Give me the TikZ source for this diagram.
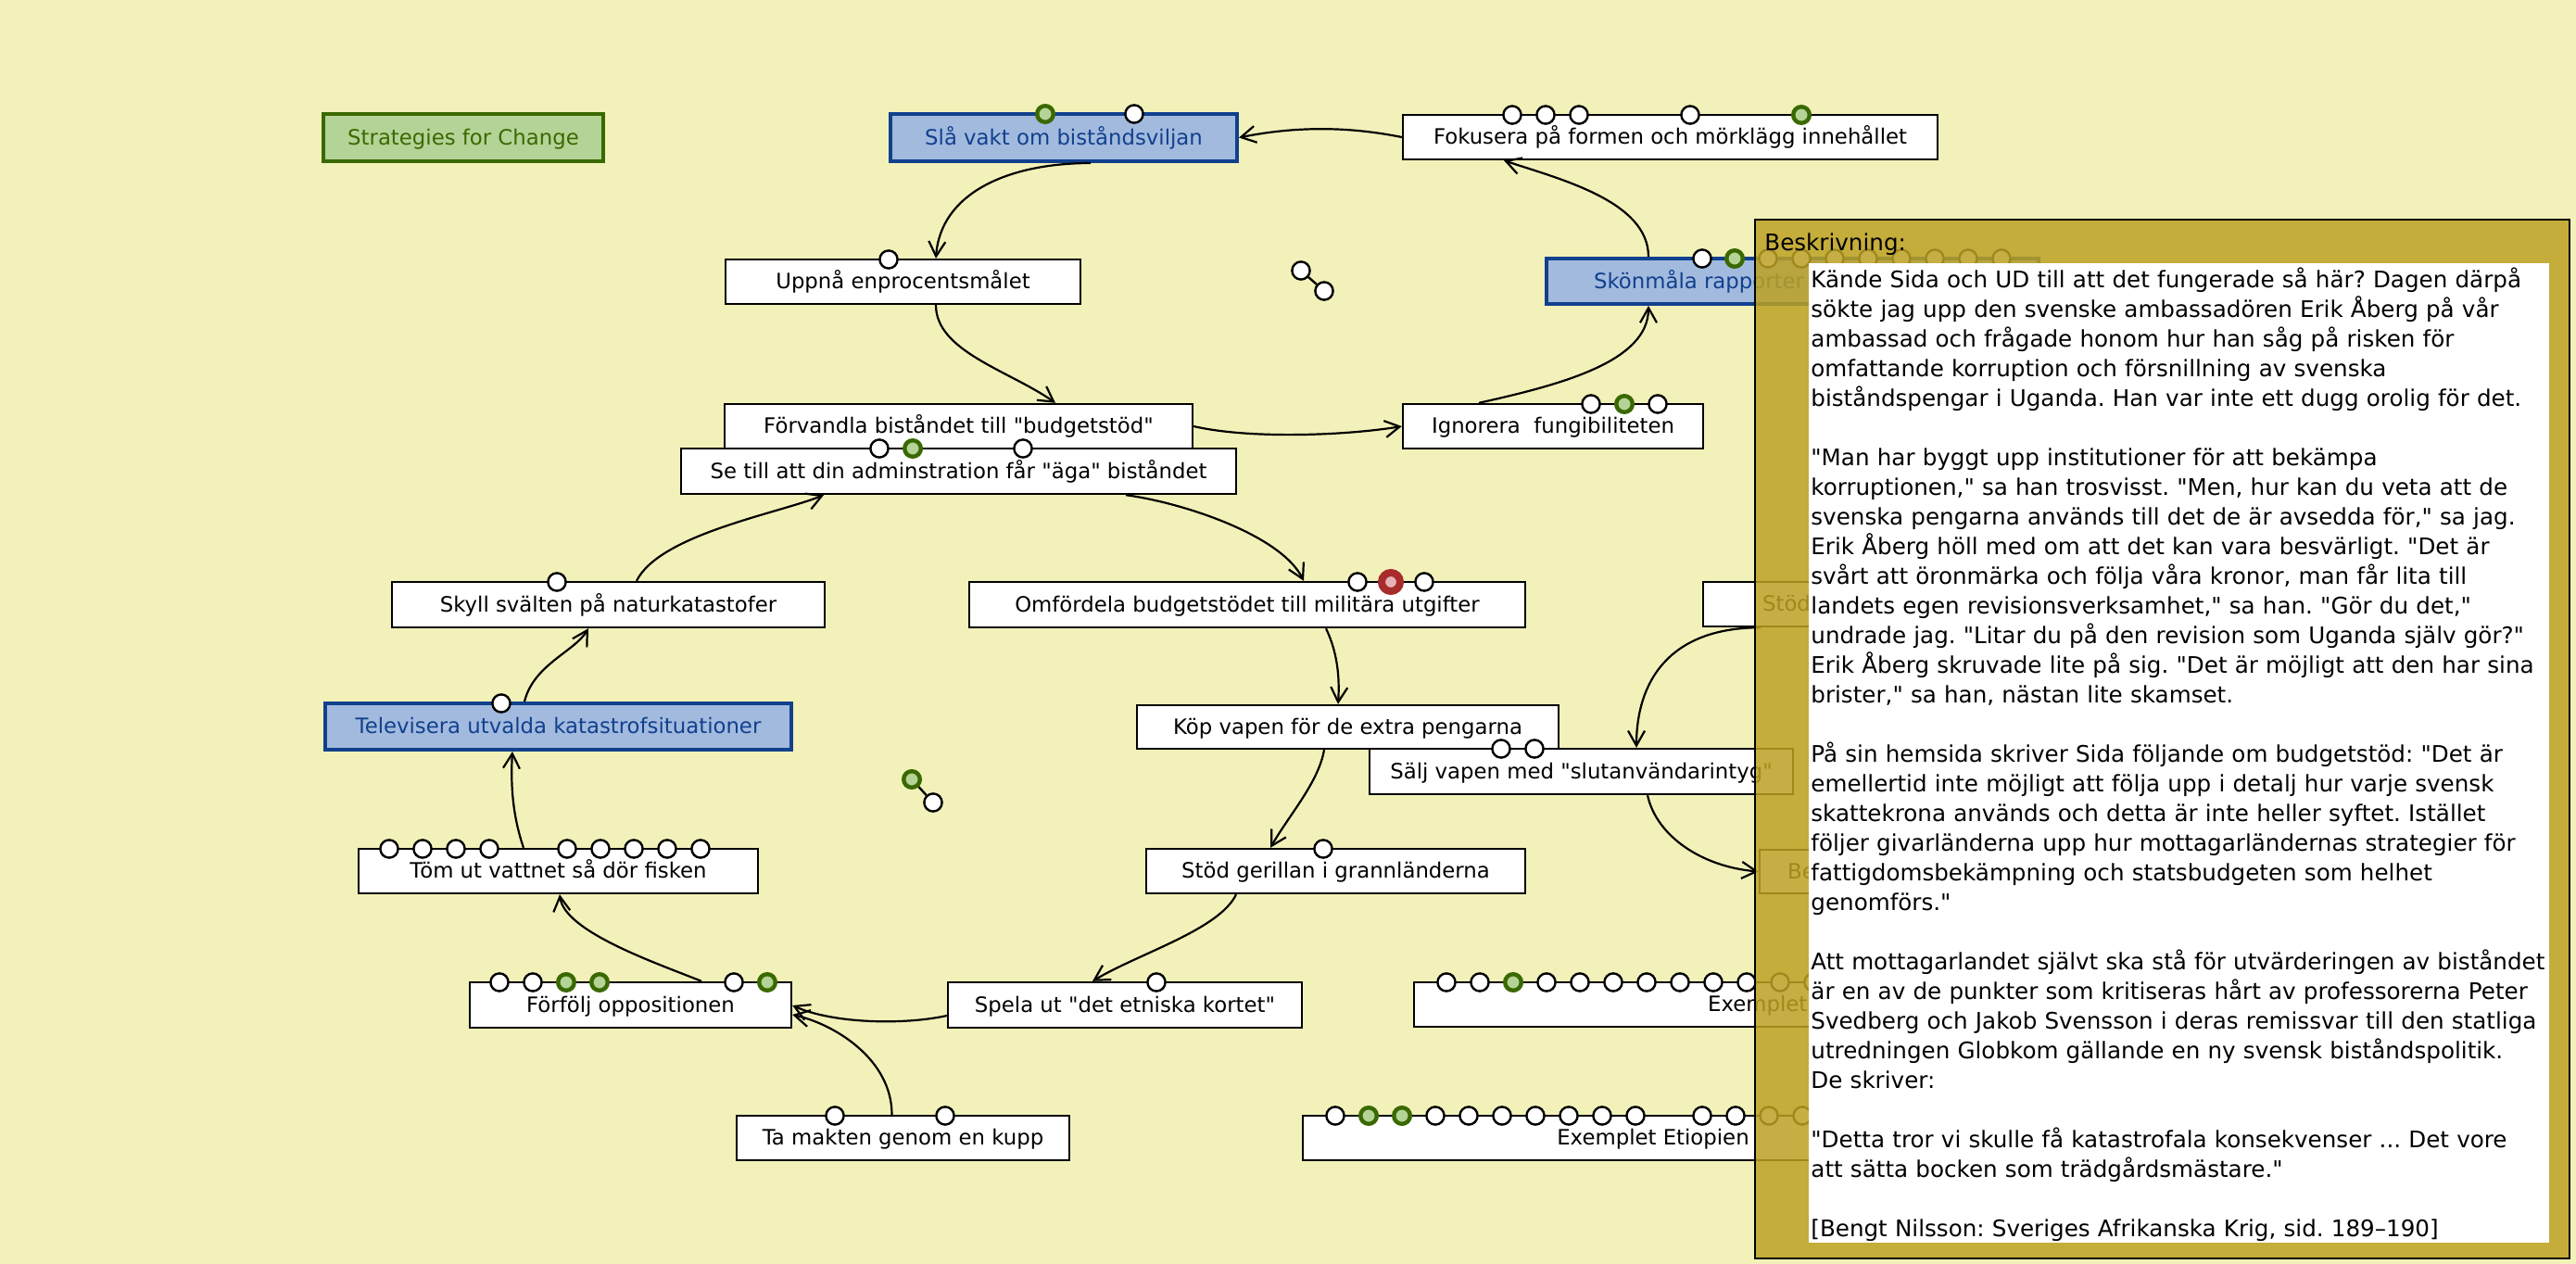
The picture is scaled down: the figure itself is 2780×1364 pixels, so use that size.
\documentclass[tikz,border=0pt]{standalone}
\usepackage{fontspec}
\newfontfamily\djv{DejaVu Sans}
\usetikzlibrary{arrows.meta,calc}
\definecolor{bgc}{RGB}{242,241,185}
\definecolor{olivec}{RGB}{188,162,36}
\definecolor{bluefill}{RGB}{162,186,222}
\definecolor{bluedark}{RGB}{17,64,141}
\definecolor{greenfill}{RGB}{180,211,150}
\definecolor{greendark}{RGB}{58,105,0}
\definecolor{reddark}{RGB}{168,44,44}
\definecolor{redfill}{RGB}{230,178,184}
\newcommand\mylabfont{\djv\frenchspacing\fontsize{11.4}{13}\selectfont}
\newcommand\mypanfont{\djv\frenchspacing\fontsize{12.3}{16}\selectfont}
\begin{document}
\begin{tikzpicture}[x=0.5pt,y=-0.5pt,
  every node/.style={font=\mylabfont},
  box/.style={draw=black, fill=white, line width=1.2pt, inner sep=0pt, text height=0.77em, text depth=0pt},
  bluebox/.style={box, draw=bluedark, fill=bluefill, line width=2pt, text=bluedark},
  greenbox/.style={box, draw=greendark, fill=greenfill, line width=2pt, text=greendark},
  sz/.style 2 args={minimum width=#1pt, minimum height=#2pt},
  wp/.style={circle, draw=black, fill=white, line width=1.2pt, minimum size=9.6pt, inner sep=0pt},
  gp/.style={circle, draw=greendark, fill=greenfill, line width=2.2pt, minimum size=8.8pt, inner sep=0pt},
  rp/.style={circle, draw=reddark, fill=redfill, line width=4pt, minimum size=10pt, inner sep=0pt},
  conn/.style={line width=1.1pt, -{Straight Barb[length=8pt,width=9pt,line width=1.1pt]}},
  panel/.style={draw=black, line width=1.2pt, fill=olivec, fill opacity=0.85, inner sep=0pt},
  whitearea/.style={fill=white, inner sep=0pt},
]
\useasboundingbox (0,0) rectangle (2780,1364);
\fill[bgc] (0,0) rectangle (2780,1364);

% boxes
\node[greenbox, sz={151}{25.5}] (strat) at (500,148.5) {Strategies for Change};
\node[bluebox, sz={187}{25.5}] (sla) at (1148,148.5) {Slå vakt om biståndsviljan};
\node[box, sz={288.5}{24}] (fok) at (1802.5,148) {Fokusera på formen och mörklägg innehållet};
\node[box, sz={191.5}{24}] (upp) at (974.5,304) {Uppnå enprocentsmålet};
\node[bluebox, sz={265.5}{24.5}] (skon) at (1934.5,303.5) {Skönmåla rapporter\hspace*{101pt}};
\node[box, sz={162}{24}] (ign) at (1676,460) {Ignorera\ \ fungibiliteten};
\node[box, sz={252.5}{24}] (forv) at (1034.5,460) {Förvandla biståndet till "budgetstöd"};
\node[box, sz={299.5}{24.5}] (seti) at (1034.5,508.5) {Se till att din adminstration får "äga" biståndet};
\node[box, sz={233.5}{24.5}] (skyll) at (656.5,652.5) {Skyll svälten på naturkatastofer};
\node[box, sz={300}{24.5}] (omf) at (1346,652.5) {Omfördela budgetstödet till militära utgifter};
\node[box, sz={196}{24}] (stodr) at (2034,652) {Stöd\hspace*{106pt}};
\node[bluebox, sz={251.5}{25}] (tele) at (602.5,784) {Televisera utvalda katastrofsituationer};
\node[box, sz={227.5}{23.5}] (kop) at (1454.5,784.5) {Köp vapen för de extra pengarna};
\node[box, sz={228.5}{24.5}] (salj) at (1706.5,832.5) {Sälj vapen med "slutanvändarintyg"};
\node[box, sz={215.5}{24}] (tom) at (602.5,940) {Töm ut vattnet så dör fisken};
\node[box, sz={204.5}{24}] (geril) at (1441.5,940) {Stöd gerillan i grannländerna};
\node[box, sz={200.5}{23.5}] (ber) at (2099.5,940.5) {Be\hspace*{155.5pt}};
\node[box, sz={173.5}{24.5}] (forf) at (680.5,1084.5) {Förfölj oppositionen};
\node[box, sz={191}{24.5}] (spela) at (1214,1084.5) {Spela ut "det etniska kortet"};
\node[box, sz={387}{24}] (exa) at (1913,1084) {Exemplet\hspace*{16.3pt}};
\node[box, sz={179.5}{24}] (ta) at (974.5,1228) {Ta makten genom en kupp};
\node[box, sz={378}{24}] (etio) at (1784,1228) {Exemplet Etiopien};

% connectors
\draw[conn] (fok.west) .. controls +(-60,-12) and +(60,-12) .. (sla.east);
\draw[conn] ($(sla.south)+(29,0)$) .. controls +(-90,0) and +(5,-70) .. ($(upp.north)+(35.5,0)$);
\draw[conn] ($(upp.south)+(35.5,0)$) .. controls +(0,50) and +(-50,-35) .. ($(forv.north)+(104.5,0)$);
\draw[conn] (forv.east) .. controls +(60,14) and +(-60,10) .. (ign.west);
\draw[conn] ($(ign.north)+(-80,0)$) .. controls +(90,-20) and +(0,60) .. ($(skon.south)+(-155.5,0)$);
\draw[conn] ($(skon.north)+(-155.5,0)$) .. controls +(0,-60) and +(60,20) .. ($(fok.south)+(-179.5,0)$);
\draw[conn] ($(skyll.north)+(30.5,0)$) .. controls +(25,-50) and +(-50,20) .. ($(seti.south)+(-145.5,0)$);
\draw[conn] ($(seti.south)+(180.5,0)$) .. controls +(60,8) and +(-25,-50) .. ($(omf.north)+(61,0)$);
\draw[conn] ($(tele.north)+(-36.5,0)$) .. controls +(10,-40) and +(-15,25) .. ($(skyll.south)+(-21.5,0)$);
\draw[conn] ($(omf.south)+(85,0)$) .. controls +(12,25) and +(2,-30) .. ($(kop.north)+(-10.5,0)$);
\draw[conn] ($(tom.north)+(-37.5,0)$) .. controls +(-12,-35) and +(-2,35) .. ($(tele.south)+(-49.5,0)$);
\draw[conn] ($(kop.south)+(-25.5,0)$) .. controls +(-6,35) and +(20,-35) .. ($(geril.north)+(-70.5,0)$);
\draw[conn] ($(geril.south)+(-107.5,0)$) .. controls +(-18,38) and +(50,-30) .. ($(spela.north)+(-35,0)$);
\draw[conn] ($(spela.west)+(0,11.5)$) .. controls +(-45,10) and +(45,20) .. ($(forf.east)+(0,0.5)$);
\draw[conn] ($(ta.north)+(-12,0)$) .. controls +(0,-60) and +(45,10) .. ($(forf.east)+(0,10.5)$);
\draw[conn] ($(forf.north)+(76.5,0)$) .. controls +(-50,-20) and +(5,40) .. ($(tom.south)+(1.5,0)$);
\draw[conn] ($(stodr.south)+(-134,0)$) .. controls +(-100,0) and +(0,-70) .. ($(salj.north)+(59.5,0)$);
\draw[conn] ($(salj.south)+(71.5,0)$) .. controls +(10,45) and +(-60,-5) .. (ber.west);

% ports
\foreach \x/\s in {1128/gp,1224/wp} \node[\s] (slap\x) at (\x,123) {};
\foreach \x/\s in {1632/wp,1668/wp,1704/wp,1824/wp,1944/gp} \node[\s] (fokp\x) at (\x,124) {};
\node[wp] (uppp) at (959,280) {};
\foreach \x/\s in {1837/wp,1872/gp,1908/wp,1944/wp,1980/wp,2016/wp,2052/wp,2088/wp,2124/wp,2160/wp} \node[\s] (skonp\x) at (\x,279) {};
\foreach \x/\s in {1717/wp,1753/gp,1789/wp} \node[\s] (ignp\x) at (\x,436) {};
\foreach \x/\s in {949/wp,985/gp,1104/wp} \node[\s] (setip\x) at (\x,484) {};
\node[wp] (skyllp) at (601,628) {};
\foreach \x/\s in {1465/wp,1501/rp,1537/wp} \node[\s] (omfp\x) at (\x,628) {};
\node[wp] (telep) at (541,759) {};
\foreach \x in {1620,1656} \node[wp] (saljp\x) at (\x,808) {};
\foreach \x in {420,456,492,528,612,648,684,720,756} \node[wp] (tomp\x) at (\x,916) {};
\node[wp] (gerilp) at (1428,916) {};
\foreach \x/\s in {539/wp,575/wp,611/gp,647/gp,792/wp,828/gp} \node[\s] (forfp\x) at (\x,1060) {};
\node[wp] (spelap) at (1248,1060) {};
\foreach \x/\s in {1561/wp,1597/wp,1633/gp,1669/wp,1705/wp,1741/wp,1777/wp,1813/wp,1849/wp,1885/wp,1921/wp,1957/wp} \node[\s] (exap\x) at (\x,1060) {};
\foreach \x in {901,1020} \node[wp] (tap\x) at (\x,1204) {};
\foreach \x/\s in {1441/wp,1477/gp,1513/gp,1549/wp,1585/wp,1621/wp,1657/wp,1693/wp,1729/wp,1765/wp,1837/wp,1873/wp,1909/wp,1945/wp} \node[\s] (etiop\x) at (\x,1204) {};

% detached port pairs
\node[wp] (d1a) at (1404,292) {};
\node[wp] (d1b) at (1429,314) {};
\draw[line width=1.2pt] (d1a) -- (d1b);
\node[gp] (d2a) at (984,841) {};
\node[wp] (d2b) at (1007,866) {};
\draw[line width=1.2pt] (d2a) -- (d2b);

% description panel
\node[panel, minimum width=439.5pt, minimum height=560.5pt] (panel) at (2333.5,797.5) {};
\node[whitearea, minimum width=399.5pt, minimum height=528.5pt] (desc) at (2351.5,812.5) {};
\node[anchor=base west, inner sep=0pt, font=\mypanfont] (besk) at (1904,271) {Beskrivning:};
\node[anchor=base west, inner sep=0pt, text width=400pt, align=left, font=\mypanfont] (desctext) at (1954,310.7) {%
Kände Sida och UD till att det fungerade så här? Dagen därpå\\
sökte jag upp den svenske ambassadören Erik Åberg på vår\\
ambassad och frågade honom hur han såg på risken för\\
omfattande korruption och försnillning av svenska\\
biståndspengar i Uganda. Han var inte ett dugg orolig för det.\\[16pt]
"Man har byggt upp institutioner för att bekämpa\\
korruptionen," sa han trosvisst. "Men, hur kan du veta att de\\
svenska pengarna används till det de är avsedda för," sa jag.\\
Erik Åberg höll med om att det kan vara besvärligt. "Det är\\
svårt att öronmärka och följa våra kronor, man får lita till\\
landets egen revisionsverksamhet," sa han. "Gör du det,"\\
undrade jag. "Litar du på den revision som Uganda själv gör?"\\
Erik Åberg skruvade lite på sig. "Det är möjligt att den har sina\\
brister," sa han, nästan lite skamset.\\[16pt]
På sin hemsida skriver Sida följande om budgetstöd: "Det är\\
emellertid inte möjligt att följa upp i detalj hur varje svensk\\
skattekrona används och detta är inte heller syftet. Istället\\
följer givarländerna upp hur mottagarländernas strategier för\\
fattigdomsbekämpning och statsbudgeten som helhet\\
genomförs."\\[16pt]
Att mottagarlandet självt ska stå för utvärderingen av biståndet\\
är en av de punkter som kritiseras hårt av professorerna Peter\\
Svedberg och Jakob Svensson i deras remissvar till den statliga\\
utredningen Globkom gällande en ny svensk biståndspolitik.\\
De skriver:\\[16pt]
"Detta tror vi skulle få katastrofala konsekvenser ... Det vore\\
att sätta bocken som trädgårdsmästare."\\[16pt]
{[}Bengt Nilsson: Sveriges Afrikanska Krig, sid. 189–190]};
\end{tikzpicture}
\end{document}
